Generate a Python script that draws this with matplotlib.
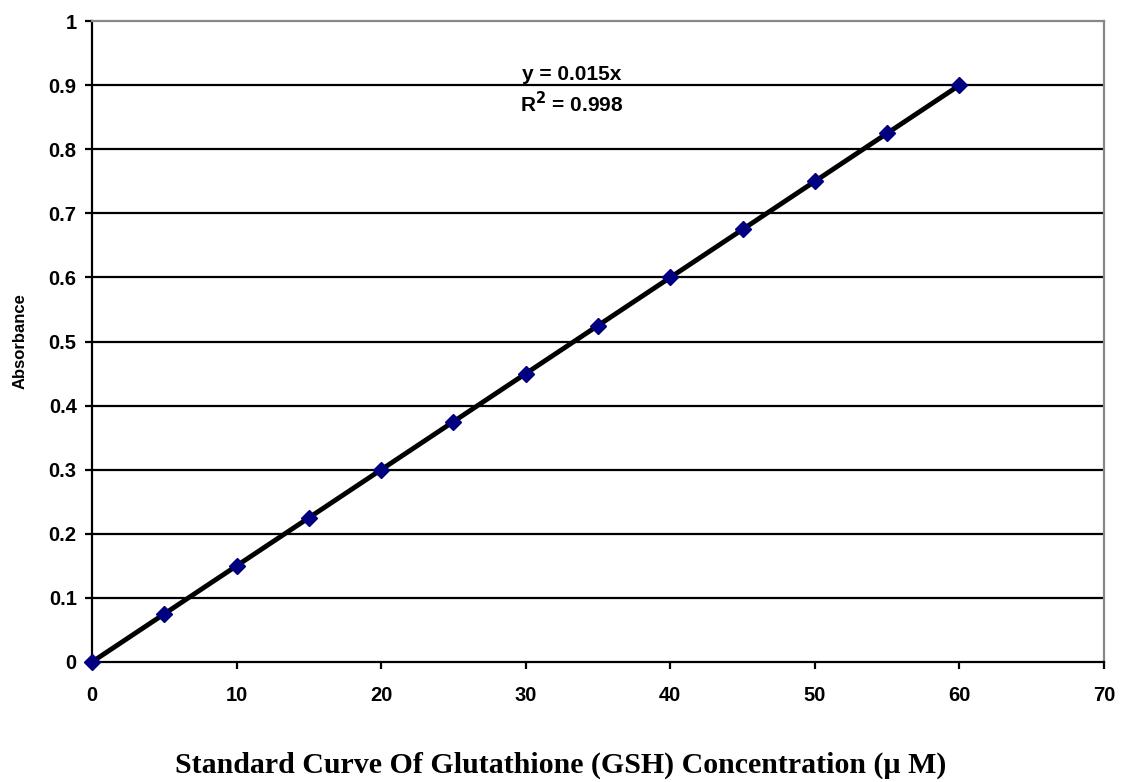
import numpy as np
import matplotlib
matplotlib.use("Agg")
import matplotlib.pyplot as plt

conc = [0, 5, 10, 15, 20, 25, 30, 35, 40, 45, 50, 55, 60]
absorbance = [0, 0.075, 0.15, 0.225, 0.3, 0.375, 0.45, 0.525, 0.6, 0.675, 0.75, 0.825, 0.9]
slope = 0.015
r2 = 0.998

plt.rcParams['font.family'] = ['Liberation Sans', 'DejaVu Sans']
plt.rcParams['font.weight'] = 'bold'

fig = plt.figure(figsize=(11.22, 7.82), dpi=100)
ax = fig.add_axes([0.082, 0.1535, 0.902, 0.8195])

ax.set_xlim(0, 70)
ax.set_ylim(0, 1)
ax.set_xticks(np.arange(0, 71, 10))
ax.set_yticks(np.arange(0, 1.01, 0.1))
ax.set_yticklabels(['0', '0.1', '0.2', '0.3', '0.4', '0.5', '0.6', '0.7', '0.8', '0.9', '1'])

for yv in np.arange(0.1, 0.95, 0.1):
    ax.axhline(yv, color='black', lw=1.6, zorder=1)

xfit = np.array([0, max(conc)])
ax.plot(xfit, slope * xfit, color='black', lw=3.5, zorder=2)
ax.plot(conc, absorbance, linestyle='none', marker='D', ms=8,
        color='#000080', zorder=3, clip_on=False)

for s in ['left', 'bottom']:
    ax.spines[s].set_color('black')
    ax.spines[s].set_linewidth(1.6)
for s in ['right', 'top']:
    ax.spines[s].set_color('#888888')
    ax.spines[s].set_linewidth(1.6)

ax.tick_params(axis='both', direction='out', length=5, width=1.6, labelsize=14.5, pad=6)
for lab in ax.get_xticklabels() + ax.get_yticklabels():
    lab.set_fontweight('bold')
ax.tick_params(axis='x', pad=12)

ax.set_ylabel('Absorbance', fontsize=12, fontweight='bold', labelpad=15)

ax.text(33.2, 0.916, 'y = %.3fx' % slope, ha='center', va='center', fontsize=15, fontweight='bold')
ax.text(33.2, 0.872, r'R$^\mathbf{2}$ = %.3f' % r2, ha='center', va='center', fontsize=15, fontweight='bold')

fig.text(0.5, 0.0115, 'Standard Curve Of Glutathione (GSH) Concentration (µ M)',
         ha='center', va='baseline', fontsize=21.5, fontweight='bold', family='Liberation Serif')

fig.savefig('out.png', dpi=100)
